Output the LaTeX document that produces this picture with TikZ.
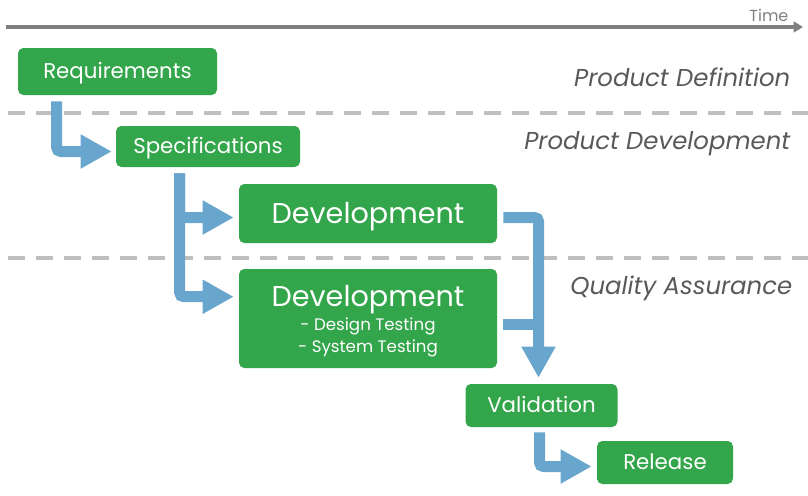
\documentclass[tikz,border=0pt]{standalone}
\usepackage{fontspec}
\setmainfont{Poppins}
\usetikzlibrary{%
    arrows.meta,%
    positioning,%
    calc
    }
\definecolor{mygreen}{RGB}{51,165,74}
\definecolor{myblue}{RGB}{105,166,206}
\definecolor{mygray1}{RGB}{128,128,128}
\definecolor{mygray2}{RGB}{191,191,191}
\definecolor{mygray3}{RGB}{89,89,89}
\tikzset{
  box/.style={
    rectangle,
    rounded corners=4pt,
    inner sep=0pt,
    align=center,
    text=white,
    fill=mygreen,
  },
  stage/.style={
    box,
    text height=11.2pt,
    text depth=0pt,
    font=\fontsize{16}{19}\selectfont,
  },
  bigstage/.style={
    box,
    text height=15pt,
    text depth=0pt,
    font=\fontsize{21.5}{25}\selectfont,
  },
  phase/.style={
    anchor=east,
    text=mygray3,
    font=\itshape\fontsize{18.3}{22}\selectfont,
  },
  flow/.style={
    draw=myblue,
    line width=8.25pt,
    rounded corners=3pt,
    -{Triangle[length=23.25pt,width=24pt]},
  },
  flowline/.style={
    draw=myblue,
    line width=8.25pt,
  },
  divider/.style={
    draw=mygray2,
    line width=3pt,
    dash pattern=on 13pt off 8pt,
  },
  timeline/.style={
    draw=mygray1,
    line width=3pt,
    -{Triangle[length=7pt,width=8pt]},
  },
}

\begin{document}
\begin{tikzpicture}[x=0.75pt,y=-0.75pt]
\useasboundingbox (0,0) rectangle (808,496);

% time axis
\coordinate (tstart) at (6,27);
\coordinate (tend) at (803,27);
\draw[timeline] (tstart) -- (tend);
\node[text=mygray1, font=\fontsize{12}{14}\selectfont, anchor=south east, inner sep=1pt]
  (timelabel) at (790,23)
  {Time};

% phase dividers
\coordinate (div1a) at (8,113);
\coordinate (div1b) at (808,113);
\coordinate (div2a) at (8,258);
\coordinate (div2b) at (808,258);
\draw[divider] (div1a) -- (div1b);
\draw[divider] (div2a) -- (div2b);

\node[phase] (phasedef) at (795,77) {Product Definition};
\node[phase] (phasedev) at (795,144) {Product Development};
\node[phase] (phaseqa) at (797,288) {Quality Assurance};

% stages
\node[stage, minimum width=149.25pt, minimum height=35.25pt]
  (req) at (117.5,71.5)
  {Requirements};
\node[stage, minimum width=138pt, minimum height=30.75pt]
  (spec) at (208,146.5)
  {Specifications};
\node[bigstage, minimum width=193.5pt, minimum height=44.25pt]
  (dev) at (368,213.5)
  {Development};
\node[box, minimum width=193.5pt, minimum height=74.25pt,
      font=\fontsize{12.5}{16.5}\selectfont]
  (devtest) at (368,318.5)
  {{\fontsize{21.5}{21}\selectfont\rule{0pt}{20pt}Development}\\[2pt]
   - Design Testing\\
   - System Testing};
\node[stage, minimum width=114pt, minimum height=32.25pt]
  (val) at (541.5,405.5)
  {Validation};
\node[stage, minimum width=102pt, minimum height=32.25pt]
  (rel) at (665,462.5)
  {Release};

% flow arrows
\draw[flow]
  ($(req.south west)+(39,6)$) |- ($(spec.west)+(-4,5)$);
\draw[flow]
  ($(spec.south west)+(64,6)$) |- ($(dev.west)+(-5,4)$);
\draw[flow]
  ($(spec.south west)+(64,6)$) |- ($(devtest.north west)+(-5,28)$);
\draw[flow]
  ($(dev.east)+(6,4)$) -| ($(val.north)+(-3,-6)$);
\draw[flowline]
  ($(devtest.east)+(6,6)$) -- ($(val.north|-devtest.east)+(-3,6)$);
\draw[flow]
  ($(val.south)+(-2,5)$) |- ($(rel.west)+(-5,4)$);
\end{tikzpicture}
\end{document}
